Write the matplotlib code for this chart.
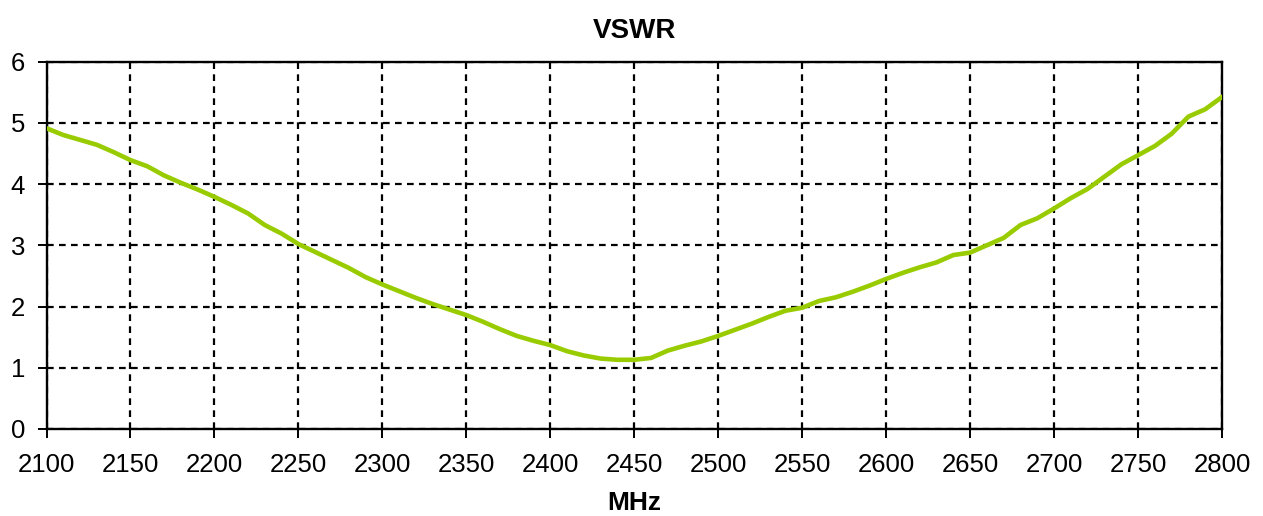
import matplotlib
matplotlib.use("Agg")
import matplotlib.pyplot as plt

freq_mhz = list(range(2100, 2801, 10))
vswr = [4.91, 4.80, 4.72, 4.64, 4.52, 4.39, 4.29, 4.14, 4.02, 3.91,
        3.79, 3.66, 3.52, 3.33, 3.19, 3.02, 2.89, 2.76, 2.63, 2.48,
        2.36, 2.25, 2.14, 2.04, 1.95, 1.86, 1.75, 1.63, 1.52, 1.44,
        1.37, 1.27, 1.20, 1.15, 1.13, 1.13, 1.16, 1.28, 1.36, 1.43,
        1.52, 1.62, 1.72, 1.83, 1.93, 1.98, 2.09, 2.15, 2.24, 2.34,
        2.45, 2.55, 2.64, 2.72, 2.84, 2.88, 3.00, 3.12, 3.33, 3.44,
        3.60, 3.77, 3.92, 4.12, 4.32, 4.47, 4.62, 4.82, 5.10, 5.22,
        5.42]
x_ticks = list(range(2100, 2801, 50))
y_ticks = [0, 1, 2, 3, 4, 5, 6]
title = "VSWR"
x_label = "MHz"

plt.rcParams['font.family'] = ['Liberation Sans', 'DejaVu Sans']

fig = plt.figure(figsize=(12.63, 5.16), dpi=100)
ax = fig.add_axes([46.5/1263, 1 - 429/516, (1222 - 46.5)/1263, (429 - 61.5)/516])

ax.plot(freq_mhz, vswr, color='#99cc00', linewidth=3.3, solid_joinstyle='round', zorder=3)

ax.set_xlim(2100, 2800)
ax.set_ylim(0, 6)
ax.set_xticks(x_ticks)
ax.set_yticks(y_ticks)
ax.tick_params(axis='both', direction='out', length=6.5, width=1.4, labelsize=18.5,
               colors='black')
ax.tick_params(axis='x', pad=11)
ax.tick_params(axis='y', pad=9)

ax.grid(True, color='black', linestyle=(0, (3.0, 2.4)), linewidth=1.6)
ax.set_axisbelow(True)
for s in ax.spines.values():
    s.set_linewidth(1.7)
    s.set_color('black')

fig.text((46.5 + 1222) / 2 / 1263, 1 - 31/516, title, ha='center', va='center',
         fontsize=20, fontweight='bold')
fig.text((46.5 + 1222) / 2 / 1263, 1 - 503/516, x_label, ha='center', va='center',
         fontsize=19, fontweight='bold')

fig.savefig("out.png", dpi=100)
